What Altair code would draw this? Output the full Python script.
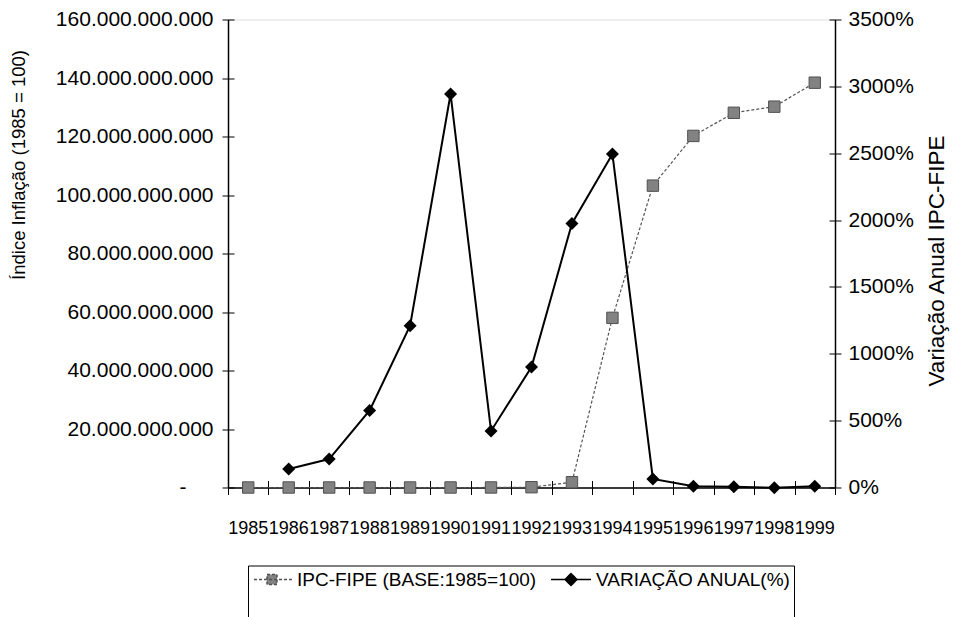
import altair as alt
import pandas as pd

# ---- data ----
anos = ['1985', '1986', '1987', '1988', '1989', '1990', '1991', '1992',
        '1993', '1994', '1995', '1996', '1997', '1998', '1999']
ipc_fipe = [100, 240, 750, 5.0e3, 6.6e4, 2.0e6, 1.05e7, 1.05e8,
            1.8e9, 5.8e10, 1.032e11, 1.202e11, 1.281e11, 1.302e11, 1.384e11]
variacao = [None, 138, 213, 576, 1210, 2943, 423, 901,
            1975, 2494, 64, 10, 5, -2, 9]
series = ['IPC-FIPE (BASE:1985=100)', 'VARIAÇÃO ANUAL(%)']
left_ticks = [0, 2e10, 4e10, 6e10, 8e10, 1e11, 1.2e11, 1.4e11, 1.6e11]
right_ticks = [0, 500, 1000, 1500, 2000, 2500, 3000, 3500]

df = pd.DataFrame({'ano': anos, 'ipc': ipc_fipe, 'var': variacao})

FONT = 'Liberation Sans'
W, H = 607, 468

x_scale = alt.Scale(type='band', paddingInner=0, paddingOuter=0)
yl_scale = alt.Scale(domain=[0, 1.6e11], nice=False, zero=True)
yr_scale = alt.Scale(domain=[0, 3500], nice=False, zero=True)

x_axis_main = alt.Axis(orient='bottom', domain=True, domainColor='black', domainWidth=1.5,
                       ticks=False, tickSize=0, labelAngle=0, labelFont=FONT, labelFontSize=18,
                       labelColor='black', labelPadding=32, labelOverlap=False, grid=False,
                       title=None)
x_axis_ticks = alt.Axis(orient='bottom', offset=-7, domain=False, ticks=True, tickSize=14,
                        tickBand='extent', tickColor='black', tickWidth=1, labels=False,
                        grid=False, title=None)

yl_axis_main = alt.Axis(orient='left', values=left_ticks, domain=True, domainColor='black',
                        domainWidth=1.5, ticks=False, tickSize=0, grid=False,
                        labelExpr="datum.value == 0 ? '-' : replace(format(datum.value, ',.0f'), regexp(',', 'g'), '.')",
                        labelFont=FONT, labelFontSize=21, labelColor='black',
                        labelPadding={'condition': {'test': 'datum.value == 0', 'value': 42}, 'value': 15},
                        labelOverlap=False,
                        title='Índice Inflação (1985 = 100)', titleFont=FONT, titleFontSize=18.5,
                        titleFontWeight='normal', titleColor='black', titleAngle=270,
                        titleX=-210, titleY=145, titleAlign='center', titleBaseline='middle')
yl_axis_ticks = alt.Axis(orient='left', values=left_ticks, offset=-6, domain=False, ticks=True,
                         tickSize=12, tickColor='black', labels=False, grid=False, title=None)

yr_axis_main = alt.Axis(orient='right', values=right_ticks, domain=True, domainColor='black',
                        domainWidth=1.5, ticks=False, tickSize=0, grid=False,
                        labelExpr="datum.value + '%'", labelFont=FONT, labelFontSize=21,
                        labelColor='black', labelPadding=13, labelOverlap=False,
                        title='Variação Anual IPC-FIPE', titleFont=FONT, titleFontSize=22.5,
                        titleFontWeight='normal', titleColor='black', titleAngle=270,
                        titleX=101, titleY=241, titleAlign='center', titleBaseline='middle')
yr_axis_ticks = alt.Axis(orient='right', values=right_ticks, offset=-6, domain=False, ticks=True,
                         tickSize=12, tickColor='black', labels=False, grid=False, title=None)

base = alt.Chart(df)

ipc_line = base.mark_line(color='#555555', strokeWidth=1.2, strokeDash=[3, 2]).encode(
    x=alt.X('ano:O', scale=x_scale, axis=x_axis_main),
    y=alt.Y('ipc:Q', scale=yl_scale, axis=yl_axis_main),
)
ipc_pts = base.mark_point(shape='square', filled=True, size=130, fill='#828282',
                          stroke='#505050', strokeWidth=1, opacity=1).encode(
    x=alt.X('ano:O', scale=x_scale, axis=x_axis_ticks),
    y=alt.Y('ipc:Q', scale=yl_scale, axis=yl_axis_ticks),
)
inner1 = alt.layer(ipc_line, ipc_pts).resolve_axis(x='independent', y='independent')

var_line = base.mark_line(color='black', strokeWidth=2).encode(
    x=alt.X('ano:O', scale=x_scale, axis=None),
    y=alt.Y('var:Q', scale=yr_scale, axis=yr_axis_main),
)
var_pts = base.mark_point(shape='diamond', filled=True, size=169, color='black', opacity=1).encode(
    x=alt.X('ano:O', scale=x_scale, axis=None),
    y=alt.Y('var:Q', scale=yr_scale, axis=yr_axis_ticks),
)
inner2 = alt.layer(var_line, var_pts).resolve_axis(y='independent')

# legend symbols: line + marker drawn a little above centre; trailing move-to
# stretches the legend frame downwards (bottom edge falls outside the page)
sq_path = 'M-0.9,-0.5H1M-0.25,-0.75H0.25V-0.25H-0.25ZM0,1.7'
dm_path = 'M-1,-0.5H1M0,-0.8L0.3,-0.5L0,-0.2L-0.3,-0.5ZM0,1.7'
leg = alt.Legend(title=None, orient='none', legendX=20, legendY=546, direction='horizontal',
                 strokeColor='black', padding=3, labelFont=FONT, labelFontSize=19,
                 labelColor='black', labelOffset=4, labelLimit=500, labelBaseline='bottom',
                 columnPadding=11, symbolSize=1600, symbolStrokeWidth=1.5, symbolOpacity=1)
legend_layer = alt.Chart(pd.DataFrame({'serie': series})).transform_filter('false').mark_point(
    filled=True, opacity=1).encode(
    fill=alt.Fill('serie:N', scale=alt.Scale(domain=series, range=['#828282', 'black']), legend=leg),
    stroke=alt.Stroke('serie:N', scale=alt.Scale(domain=series, range=['#505050', 'black']), legend=leg),
    shape=alt.Shape('serie:N', scale=alt.Scale(domain=series, range=[sq_path, dm_path]), legend=leg),
    strokeDash=alt.StrokeDash('serie:N', scale=alt.Scale(domain=series, range=[[3, 2], [1, 0]]), legend=leg),
)

chart = alt.layer(inner1, inner2, legend_layer).resolve_scale(y='independent').properties(
    width=W, height=H,
    padding={'left': 228, 'top': 19.5, 'right': 118, 'bottom': 129.5},
    autosize=alt.AutoSizeParams(type='none'),
    background='white',
).configure_view(stroke=None).configure(font=FONT)

chart.save('out.html', embed_options={'renderer': 'svg', 'actions': False})
